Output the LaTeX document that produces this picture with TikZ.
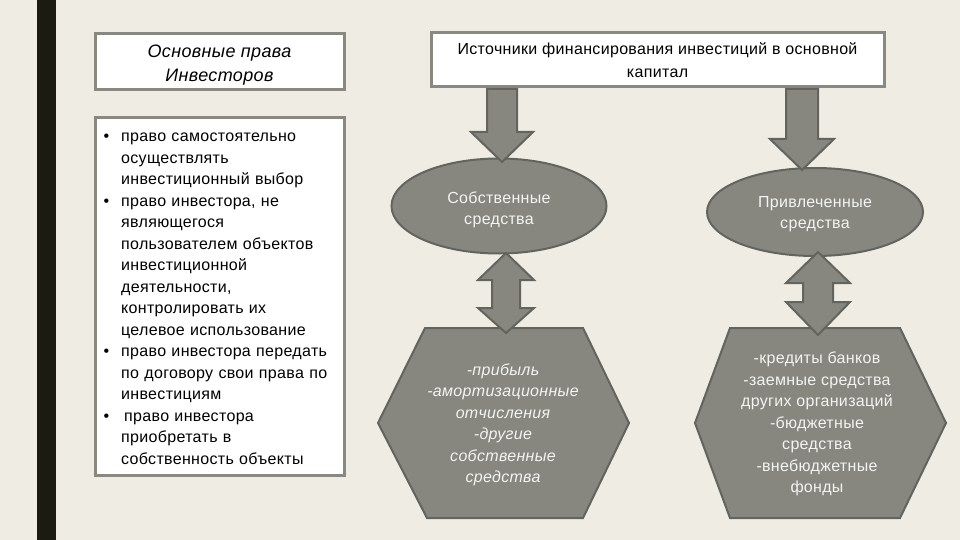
\documentclass[tikz,border=0pt]{standalone}
\usepackage{fontspec}
\setmainfont{Liberation Sans}[LetterSpace=2]
\usetikzlibrary{shapes.geometric}

\definecolor{slidebg}{RGB}{239,236,227}
\definecolor{sidebar}{RGB}{28,27,18}
\definecolor{boxline}{RGB}{137,137,130}
\definecolor{shapefill}{RGB}{135,135,128}
\definecolor{shapeline}{RGB}{100,100,94}
\definecolor{shapetext}{RGB}{244,244,240}

\newenvironment{rightslist}{%
  \begin{list}{\textbullet}{%
    \setlength{\leftmargin}{22pt}\setlength{\labelwidth}{10pt}%
    \setlength{\labelsep}{12pt}\setlength{\itemsep}{0pt}%
    \setlength{\parsep}{0pt}\setlength{\topsep}{0pt}}}%
  {\end{list}}

\tikzset{
  titlebox/.style={draw=boxline, line width=3pt, fill=white, align=center,
    font=\fontsize{16}{23}\selectfont},
  fundsoval/.style={ellipse, draw=shapeline, line width=2pt, fill=shapefill},
  shapelabel/.style={text=shapetext, align=center, font=\fontsize{16}{21.5}\selectfont},
  blockshape/.style={draw=shapeline, line width=2pt, fill=shapefill, line join=miter}
}

\begin{document}
\begin{tikzpicture}[x=1pt,y=-1pt]
	\fill[slidebg] (0,0) rectangle (960,540);
	\useasboundingbox (0,0) rectangle (960,540);
	\fill[sidebar] (37,0) rectangle (56,540);

	% left column
	\node[titlebox, minimum width=249pt, minimum height=56pt] (rights) at (219.5,62) {};
	\node[align=center, font=\fontsize{18}{24}\selectfont\itshape] (rightstitle)
		at ([yshift=-3pt]rights.center) {Основные права\\Инвесторов};
	\node[draw=boxline, line width=3pt, fill=white, minimum width=249pt,
		minimum height=357pt] (rightsbox) at (219.5,296.5) {};
	\node[anchor=north west, text width=236pt, inner sep=0pt,
		font=\fontsize{16}{21.5}\selectfont] (rightslist) at (99,120) {%
		\raggedright
		\begin{rightslist}
		\item право самостоятельно\\осуществлять\\инвестиционный выбор
		\item право инвестора, не\\являющегося\\пользователем объектов\\инвестиционной\\деятельности,\\контролировать их\\целевое использование
		\item право инвестора передать\\по договору свои права по\\инвестициям
		\item \hspace{3pt}право инвестора\\приобретать в\\собственность объекты
		\end{rightslist}};

	% right part
	\node[titlebox, minimum width=453pt, minimum height=54pt] (sources) at (657.5,60)
		{Источники финансирования инвестиций в основной\\капитал};
	\node[fundsoval, minimum width=215pt, minimum height=95pt] (own) at (499,206) {};
	\node[shapelabel] (owntext) at ([yshift=-4pt]own.center) {Собственные\\средства};
	\node[fundsoval, minimum width=216pt, minimum height=88pt] (borrowed) at (815,212) {};
	\node[shapelabel] (borrowedtext) at ([yshift=-2pt]borrowed.center) {Привлеченные\\средства};

	% arrows from the title down to the ovals
	\draw[blockshape] (487,89) -- (517,89) -- (517,132) -- (533,132) -- (502,162)
		-- (471,132) -- (487,132) -- cycle;
	\draw[blockshape] (786,89) -- (818,89) -- (818,139) -- (834,139) -- (802,170)
		-- (770,139) -- (786,139) -- cycle;

	% hexagons
	\draw[blockshape] (425,328) -- (583,328) -- (629,423) -- (583,518) -- (427,518) -- (378,423) -- cycle;
	\draw[blockshape] (730,328) -- (900,328) -- (946,423) -- (900,518) -- (730,518) -- (695,423) -- cycle;
	\node[shapelabel, font=\fontsize{16}{21.5}\selectfont\itshape] (ownlist) at (503,425)
		{-прибыль\\-амортизационные\\отчисления\\-другие\\собственные\\средства};
	\node[shapelabel] (borrowedlist) at (817,424)
		{-кредиты банков\\-заемные средства\\других организаций\\-бюджетные\\средства\\-внебюджетные\\фонды};

	% double arrows between ovals and hexagons
	\draw[blockshape] (506,253) -- (534,280) -- (520,280) -- (520,308) -- (534,308) -- (506,333)
		-- (478,308) -- (492,308) -- (492,280) -- (478,280) -- cycle;
	\draw[blockshape] (818,252) -- (850,283) -- (833,283) -- (833,302) -- (850,302) -- (818,335)
		-- (786,302) -- (803,302) -- (803,283) -- (786,283) -- cycle;
\end{tikzpicture}
\end{document}
